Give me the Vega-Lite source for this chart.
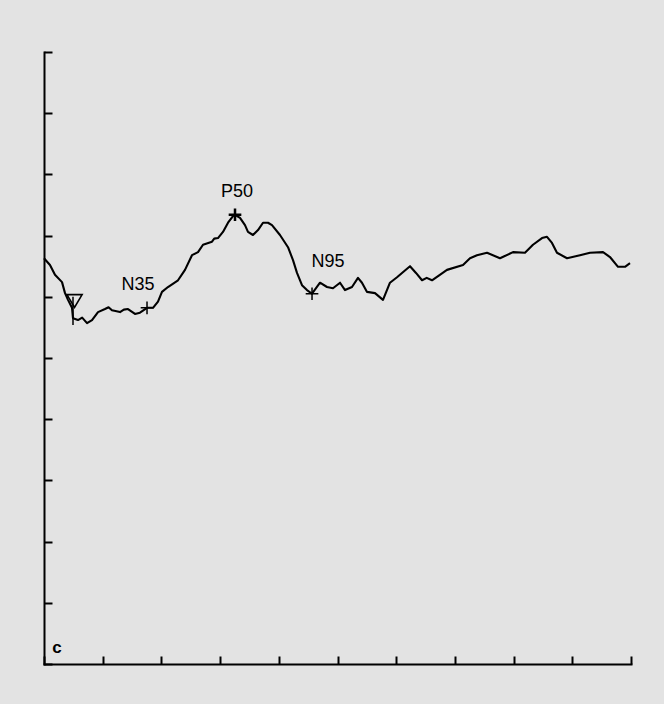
{
  "$schema": "https://vega.github.io/schema/vega-lite/v6.json",
  "width": 587,
  "height": 612,
  "autosize": {"type": "none"},
  "padding": {"left": 44, "top": 52, "right": 33, "bottom": 40},
  "background": "#e3e3e3",
  "config": {
    "view": {"stroke": null},
    "font": "Liberation Sans",
    "axis": {
      "domainColor": "#000000", "domainWidth": 2, "domainCap": "square",
      "tickColor": "#000000", "tickWidth": 2, "tickSize": -8,
      "labels": false, "grid": false, "title": null
    }
  },
  "datasets": {
    "wave": [
      {"t": 0.0, "v": 66.3}, {"t": 1.02, "v": 65.2}, {"t": 1.87, "v": 63.6}, {"t": 3.07, "v": 62.4},
      {"t": 3.58, "v": 60.6}, {"t": 4.09, "v": 59.5}, {"t": 4.77, "v": 58.2}, {"t": 4.94, "v": 56.5},
      {"t": 5.79, "v": 56.2}, {"t": 6.5, "v": 56.6}, {"t": 7.33, "v": 55.7}, {"t": 8.18, "v": 56.2}, {"t": 9.2, "v": 57.5},
      {"t": 10.39, "v": 58.0}, {"t": 11.0, "v": 58.3}, {"t": 11.58, "v": 57.8}, {"t": 12.95, "v": 57.5}, {"t": 13.6, "v": 57.9}, {"t": 14.31, "v": 58.0},
      {"t": 15.5, "v": 57.2}, {"t": 16.35, "v": 57.4}, {"t": 17.55, "v": 58.2}, {"t": 18.57, "v": 58.2},
      {"t": 19.42, "v": 59.2}, {"t": 20.1, "v": 60.8}, {"t": 21.12, "v": 61.6}, {"t": 22.83, "v": 62.7},
      {"t": 24.02, "v": 64.4}, {"t": 25.21, "v": 66.8}, {"t": 26.24, "v": 67.3}, {"t": 27.09, "v": 68.5},
      {"t": 28.62, "v": 69.0}, {"t": 29.0, "v": 69.5}, {"t": 29.64, "v": 69.6}, {"t": 30.49, "v": 70.6}, {"t": 31.35, "v": 72.1},
      {"t": 32.2, "v": 73.2}, {"t": 32.54, "v": 73.4}, {"t": 33.39, "v": 72.9}, {"t": 34.24, "v": 71.7},
      {"t": 34.75, "v": 70.6}, {"t": 35.6, "v": 70.1}, {"t": 36.46, "v": 70.9}, {"t": 37.31, "v": 72.1},
      {"t": 38.16, "v": 72.1}, {"t": 38.84, "v": 71.7}, {"t": 40.2, "v": 70.1}, {"t": 41.57, "v": 68.1},
      {"t": 42.42, "v": 66.0}, {"t": 43.1, "v": 63.9}, {"t": 43.95, "v": 61.9}, {"t": 44.8, "v": 61.1},
      {"t": 45.66, "v": 60.5}, {"t": 47.02, "v": 62.3}, {"t": 48.21, "v": 61.6}, {"t": 49.23, "v": 61.4},
      {"t": 50.43, "v": 62.3}, {"t": 51.28, "v": 61.1}, {"t": 52.47, "v": 61.6}, {"t": 53.49, "v": 63.1},
      {"t": 54.17, "v": 62.3}, {"t": 55.03, "v": 60.8}, {"t": 56.39, "v": 60.6}, {"t": 57.75, "v": 59.5},
      {"t": 58.94, "v": 62.3}, {"t": 60.14, "v": 63.2}, {"t": 60.99, "v": 63.9}, {"t": 62.35, "v": 65.0},
      {"t": 63.37, "v": 63.9}, {"t": 64.4, "v": 62.7}, {"t": 65.2, "v": 63.1}, {"t": 66.1, "v": 62.7}, {"t": 68.65, "v": 64.4},
      {"t": 71.38, "v": 65.2}, {"t": 72.57, "v": 66.3}, {"t": 73.76, "v": 66.8}, {"t": 75.47, "v": 67.2},
      {"t": 77.68, "v": 66.3}, {"t": 79.9, "v": 67.3}, {"t": 81.94, "v": 67.2}, {"t": 83.3, "v": 68.5},
      {"t": 84.84, "v": 69.6}, {"t": 85.69, "v": 69.8}, {"t": 86.54, "v": 68.8}, {"t": 87.39, "v": 67.2},
      {"t": 89.1, "v": 66.3}, {"t": 91.31, "v": 66.8}, {"t": 93.02, "v": 67.2}, {"t": 95.23, "v": 67.3},
      {"t": 96.42, "v": 66.5}, {"t": 97.79, "v": 64.9}, {"t": 98.98, "v": 64.9}, {"t": 99.83, "v": 65.5}
    ],
    "peaks": [
      {"name": "N35", "t": 17.55, "v": 58.2, "lt": 16.0, "lv": 61.9, "w": 1.5},
      {"name": "P50", "t": 32.54, "v": 73.4, "lt": 32.9, "lv": 77.1, "w": 2.5},
      {"name": "N95", "t": 45.66, "v": 60.5, "lt": 48.4, "lv": 65.7, "w": 1.5}
    ],
    "trigger": [{"t": 4.94, "tm": 5.2, "v1": 60.0, "v2": 55.4, "vm": 59.3}],
    "panel": [{"t": 2.2, "v": 2.6, "label": "c"}]
  },
  "layer": [
    {
      "data": {"name": "wave"},
      "mark": {"type": "line", "color": "#000000", "strokeWidth": 2.1, "strokeJoin": "round"},
      "encoding": {
        "x": {"field": "t", "type": "quantitative", "scale": {"domain": [0, 100], "nice": false, "zero": false},
              "axis": {"orient": "bottom", "values": [0, 10, 20, 30, 40, 50, 60, 70, 80, 90, 100]}},
        "y": {"field": "v", "type": "quantitative", "scale": {"domain": [0, 100], "nice": false, "zero": false},
              "axis": {"orient": "left", "values": [0, 10, 20, 30, 40, 50, 60, 70, 80, 90, 100]}}
      }
    },
    {
      "data": {"name": "trigger"},
      "mark": {"type": "rule", "color": "#000000", "strokeWidth": 1.5},
      "encoding": {
        "x": {"field": "t", "type": "quantitative"},
        "y": {"field": "v1", "type": "quantitative"},
        "y2": {"field": "v2"}
      }
    },
    {
      "data": {"name": "trigger"},
      "mark": {"type": "point", "shape": "M-1,-0.85L1,-0.85L0,0.85Z", "filled": false, "stroke": "#000000", "strokeWidth": 1.6, "size": 230, "opacity": 1},
      "encoding": {
        "x": {"field": "tm", "type": "quantitative"},
        "y": {"field": "vm", "type": "quantitative"}
      }
    },
    {
      "data": {"name": "peaks"},
      "mark": {"type": "point", "shape": "M-1,0L1,0M0,-1L0,1", "filled": false, "stroke": "#000000", "size": 160, "opacity": 1},
      "encoding": {
        "x": {"field": "t", "type": "quantitative"},
        "y": {"field": "v", "type": "quantitative"},
        "strokeWidth": {"field": "w", "type": "quantitative", "scale": null, "legend": null}
      }
    },
    {
      "data": {"name": "peaks"},
      "mark": {"type": "text", "fontSize": 18, "color": "#000000", "align": "center", "baseline": "middle"},
      "encoding": {
        "x": {"field": "lt", "type": "quantitative"},
        "y": {"field": "lv", "type": "quantitative"},
        "text": {"field": "name"}
      }
    },
    {
      "data": {"name": "panel"},
      "mark": {"type": "text", "fontSize": 17, "fontWeight": "bold", "color": "#000000", "align": "center", "baseline": "middle"},
      "encoding": {
        "x": {"field": "t", "type": "quantitative"},
        "y": {"field": "v", "type": "quantitative"},
        "text": {"field": "label"}
      }
    }
  ]
}
